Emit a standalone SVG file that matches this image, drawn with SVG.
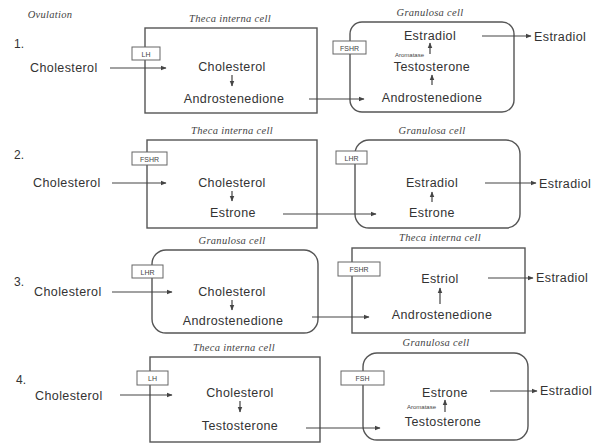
<svg xmlns="http://www.w3.org/2000/svg" width="605" height="447" viewBox="0 0 605 447">
<defs>
<marker id="ah" viewBox="0 0 10 10" refX="9" refY="5" markerWidth="6" markerHeight="6" orient="auto-start-reverse" markerUnits="userSpaceOnUse">
<path d="M0,1 L10,5 L0,9 z" fill="#444"/>
</marker>
<style>
.t{font-family:"Liberation Sans",Arial,sans-serif;font-size:12.5px;fill:#333;letter-spacing:0.4px}
.c{text-anchor:middle}
.lab{font-family:"Liberation Serif","Times New Roman",serif;font-style:italic;font-size:10.5px;fill:#444;text-anchor:middle;letter-spacing:0.3px}
.sm{font-family:"Liberation Sans",Arial,sans-serif;font-size:7px;fill:#444;text-anchor:middle}
.arom{font-family:"Liberation Sans",Arial,sans-serif;font-size:6px;fill:#444;text-anchor:end}
.num{font-family:"Liberation Sans",Arial,sans-serif;font-size:12px;fill:#333}
.cell{fill:none;stroke:#555;stroke-width:1.4}
.rb{fill:#fff;stroke:#666;stroke-width:1}
.ln{fill:none;stroke:#444;stroke-width:1.2;marker-end:url(#ah)}
</style>
</defs>
<rect width="605" height="447" fill="#fff"/>
<text x="50" y="18" class="lab" font-size="9">Ovulation</text>

<!-- Row 1 -->
<g id="row1-num"><text x="14" y="48" class="num">1.</text></g>
<g id="row1-chol"><text x="30" y="72" class="t">Cholesterol</text></g>
<g id="row1-theca">
<rect x="145" y="28" width="172" height="85" class="cell"/>
<text x="230" y="22" class="lab">Theca interna cell</text>
<rect x="132" y="47" width="28" height="13" class="rb"/>
<text x="146" y="56.5" class="sm">LH</text>
<text x="232" y="71" class="t c">Cholesterol</text>
<text x="234" y="103" class="t c">Androstenedione</text>
</g>
<g id="row1-gran">
<rect x="350" y="22" width="164" height="90" rx="12" class="cell"/>
<text x="430" y="16" class="lab">Granulosa cell</text>
<rect x="333" y="41" width="33" height="13" class="rb"/>
<text x="349.5" y="50.5" class="sm">FSHR</text>
<text x="430" y="40" class="t c">Estradiol</text>
<text x="424" y="57" class="arom">Aromatase</text>
<text x="432" y="71" class="t c">Testosterone</text>
<text x="432" y="102" class="t c">Androstenedione</text>
</g>
<g id="row1-out"><text x="534" y="41" class="t">Estradiol</text></g>

<!-- Row 2 -->
<g id="row2-num"><text x="14" y="159" class="num">2.</text></g>
<g id="row2-chol"><text x="33" y="187" class="t">Cholesterol</text></g>
<g id="row2-theca">
<rect x="147" y="140" width="170" height="88" class="cell"/>
<text x="232" y="134" class="lab">Theca interna cell</text>
<rect x="132" y="152" width="35" height="13" class="rb"/>
<text x="149.5" y="161.5" class="sm">FSHR</text>
<text x="232" y="187" class="t c">Cholesterol</text>
<text x="233" y="217" class="t c">Estrone</text>
</g>
<g id="row2-gran">
<rect x="355" y="140" width="165" height="88" rx="14" class="cell"/>
<text x="432" y="134" class="lab">Granulosa cell</text>
<rect x="336" y="151" width="31" height="13" class="rb"/>
<text x="351.5" y="160.5" class="sm">LHR</text>
<text x="432" y="187" class="t c">Estradiol</text>
<text x="432" y="217" class="t c">Estrone</text>
</g>
<g id="row2-out"><text x="539" y="188" class="t">Estradiol</text></g>

<!-- Row 3 -->
<g id="row3-num"><text x="14" y="286" class="num">3.</text></g>
<g id="row3-chol"><text x="34" y="296" class="t">Cholesterol</text></g>
<g id="row3-gran">
<rect x="152" y="250" width="166" height="83" rx="14" class="cell"/>
<text x="232" y="244" class="lab">Granulosa cell</text>
<rect x="132" y="265" width="31" height="13" class="rb"/>
<text x="147.5" y="274.5" class="sm">LHR</text>
<text x="232" y="296" class="t c">Cholesterol</text>
<text x="233" y="325" class="t c">Androstenedione</text>
</g>
<g id="row3-theca">
<rect x="352" y="248" width="173" height="85" class="cell"/>
<text x="440" y="241" class="lab">Theca interna cell</text>
<rect x="338" y="262" width="42" height="14" class="rb"/>
<text x="359" y="272" class="sm">FSHR</text>
<text x="440" y="283" class="t c">Estriol</text>
<text x="442" y="319" class="t c">Androstenedione</text>
</g>
<g id="row3-out"><text x="536" y="282" class="t">Estradiol</text></g>

<!-- Row 4 -->
<g id="row4-num"><text x="16" y="384" class="num">4.</text></g>
<g id="row4-chol"><text x="35" y="400" class="t">Cholesterol</text></g>
<g id="row4-theca">
<rect x="150" y="357" width="170" height="85" class="cell"/>
<text x="234" y="351" class="lab">Theca interna cell</text>
<rect x="137" y="371" width="31" height="14" class="rb"/>
<text x="152.5" y="381" class="sm">LH</text>
<text x="240" y="397" class="t c">Cholesterol</text>
<text x="240" y="430" class="t c">Testosterone</text>
</g>
<g id="row4-gran">
<rect x="363" y="353" width="165" height="87" rx="14" class="cell"/>
<text x="436" y="346" class="lab">Granulosa cell</text>
<rect x="341" y="371" width="43" height="14" class="rb"/>
<text x="362.5" y="381" class="sm">FSH</text>
<text x="445" y="397" class="t c">Estrone</text>
<text x="436" y="409" class="arom">Aromatase</text>
<text x="443" y="426" class="t c">Testosterone</text>
</g>
<g id="row4-out"><text x="540" y="395" class="t">Estradiol</text></g>

<g id="connectors">
<!-- row 1 -->
<path d="M110,68 H166" class="ln"/>
<path d="M232,75 V86" class="ln"/>
<path d="M309,99 H364" class="ln"/>
<path d="M432,85 V75" class="ln"/>
<path d="M430,54 V43" class="ln"/>
<path d="M482,36 H531" class="ln"/>
<!-- row 2 -->
<path d="M112,183 H166" class="ln"/>
<path d="M232,191 V201" class="ln"/>
<path d="M283,214 H376" class="ln"/>
<path d="M432,202 V192" class="ln"/>
<path d="M485,183 H536" class="ln"/>
<!-- row 3 -->
<path d="M112,292 H172" class="ln"/>
<path d="M232,300 V310" class="ln"/>
<path d="M312,317 H369" class="ln"/>
<path d="M440,304 V288" class="ln"/>
<path d="M488,278 H533" class="ln"/>
<!-- row 4 -->
<path d="M120,395 H172" class="ln"/>
<path d="M240,401 V412" class="ln"/>
<path d="M306,428 H380" class="ln"/>
<path d="M445,412 V400" class="ln"/>
<path d="M490,391 H537" class="ln"/>
</g>
</svg>
